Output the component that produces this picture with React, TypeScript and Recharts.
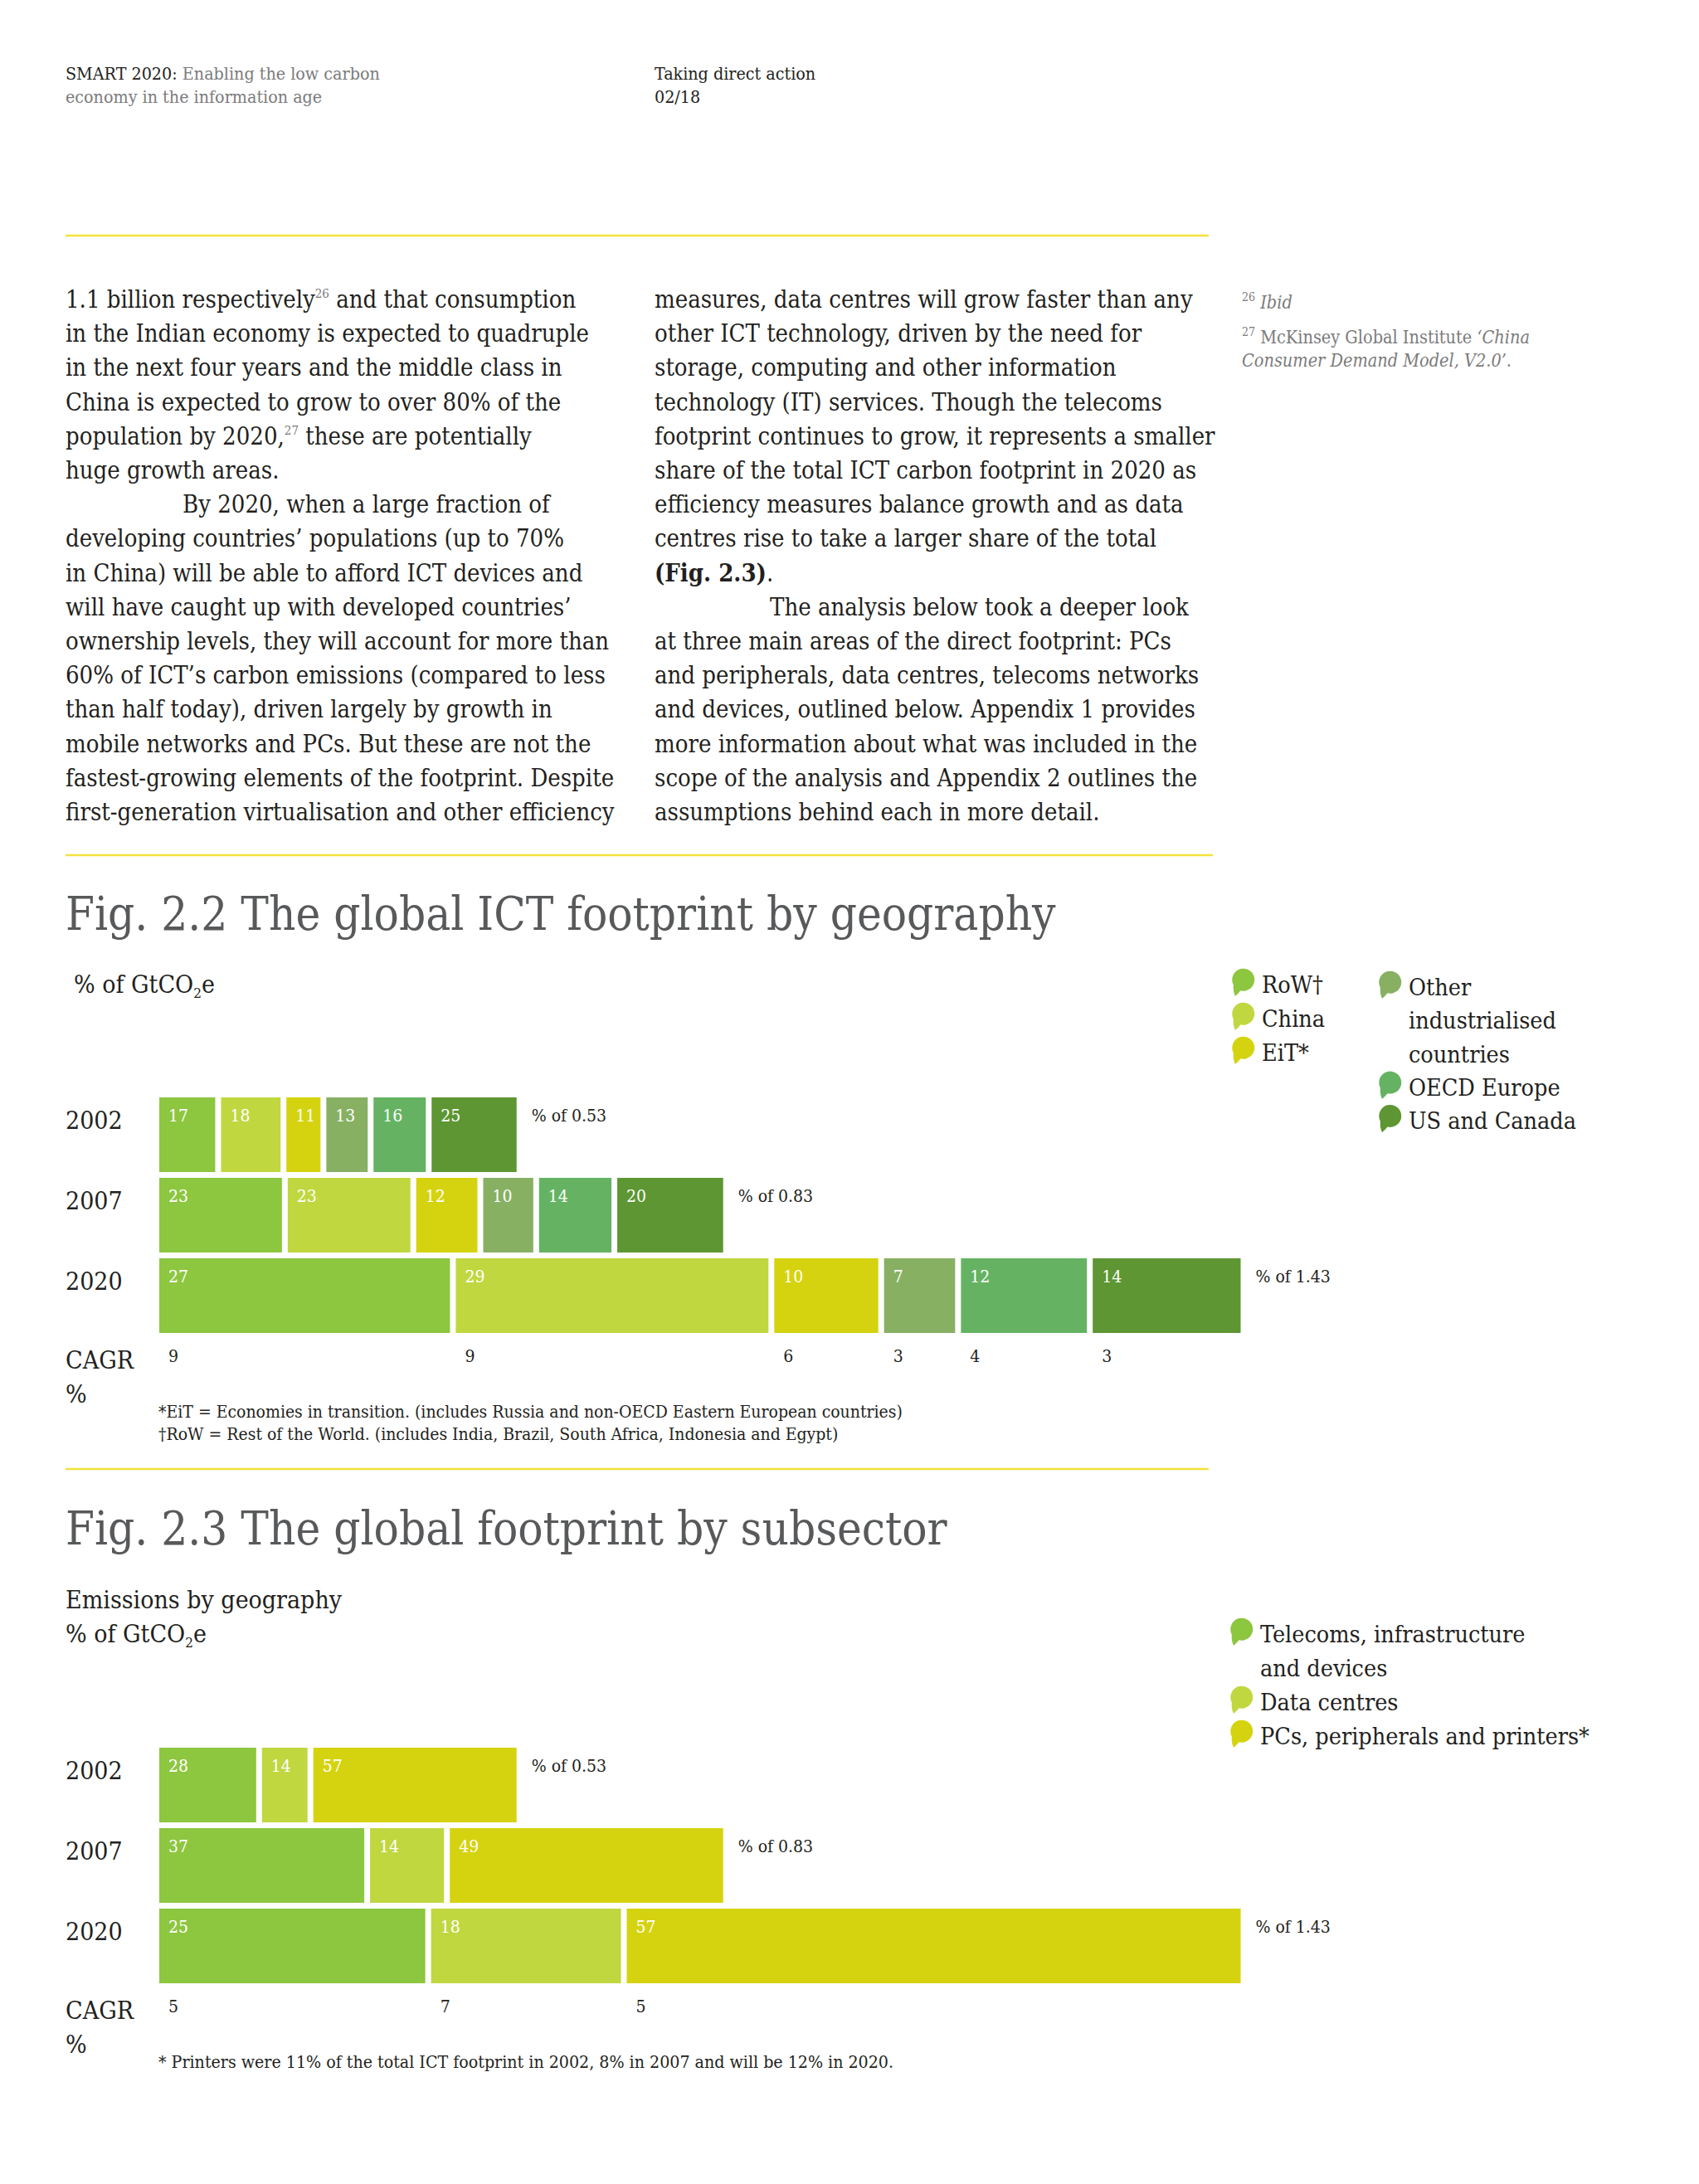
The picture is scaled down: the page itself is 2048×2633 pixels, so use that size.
import React from 'react';
import { BarChart, Bar, XAxis, YAxis, LabelList } from 'recharts';

const FONT = '"DejaVu Serif", "Liberation Serif", serif';
const INK = '#231f20';
const GREY = '#7b7b7b';
const TITLE_GREY = '#58595b';
const RULE = '#f3e23b';

// rows shared by both figures
const YEARS = ['2002', '2007', '2020'];
// drawn length of each row, as % of the 2020 row (as laid out on the page)
const ROW_LENGTH = [33.4, 52.4, 100];

// Fig 2.2 - by geography
const GEO_SERIES = ['RoW†', 'China', 'EiT*', 'Other\nindustrialised\ncountries', 'OECD Europe', 'US and Canada'];
const GEO_COLORS = ['#8dc63f', '#c0d73f', '#d5d30f', '#87b063', '#65b362', '#5d9632'];
const GEO_2002 = [17, 18, 11, 13, 16, 25];
const GEO_2007 = [23, 23, 12, 10, 14, 20];
const GEO_2020 = [27, 29, 10, 7, 12, 14];
const GEO_TOTALS = ['0.53', '0.83', '1.43'];
const GEO_CAGR = [9, 9, 6, 3, 4, 3];

// Fig 2.3 - by subsector
const SUB_SERIES = ['Telecoms, infrastructure\nand devices', 'Data centres', 'PCs, peripherals and printers*'];
const SUB_COLORS = ['#8dc63f', '#c0d73f', '#d5d30f'];
const SUB_2002 = [28, 14, 57];
const SUB_2007 = [37, 14, 49];
const SUB_2020 = [25, 18, 57];
const SUB_TOTALS = ['0.53', '0.83', '1.43'];
const SUB_CAGR = [5, 7, 5];

const GAP = 7;

function buildRows(rows: number[][], totals: string[], cagr: number[]) {
  return YEARS.map((year, i) => {
    const vals = rows[i];
    const sum = vals.reduce((a, b) => a + b, 0);
    const row: any = { year, total: `% of ${totals[i]}` };
    vals.forEach((v, j) => {
      row[`s${j}`] = (v * ROW_LENGTH[i]) / sum;
      row[`v${j}`] = v;
      row[`c${j}`] = i === YEARS.length - 1 ? cagr[j] : null;
    });
    return row;
  });
}

const geoData = buildRows([GEO_2002, GEO_2007, GEO_2020], GEO_TOTALS, GEO_CAGR);
const subData = buildRows([SUB_2002, SUB_2007, SUB_2020], SUB_TOTALS, SUB_CAGR);

const SegmentRect = (props: any) => {
  const { x, y, width, height, fill } = props;
  return <rect x={x} y={y} width={Math.max(width - GAP, 0)} height={height} fill={fill} />;
};

const box = (p: any) => (p.viewBox && p.viewBox.width != null ? p.viewBox : p);

const InnerLabel = (p: any) => {
  if (p.value == null) return null;
  const b = box(p);
  return (
    <text x={b.x + 11} y={b.y + 29} fill="#fff" fontSize={21}>
      {p.value}
    </text>
  );
};

const CagrLabel = (p: any) => {
  if (p.value == null) return null;
  const b = box(p);
  return (
    <text x={b.x + 11} y={b.y + b.height + 35} fill={INK} fontSize={21}>
      {p.value}
    </text>
  );
};

const TotalLabel = (p: any) => {
  if (p.value == null) return null;
  const b = box(p);
  return (
    <text x={b.x + b.width + 11} y={b.y + 29} fill={INK} fontSize={21}>
      {p.value}
    </text>
  );
};

const YearTick = (p: any) => (
  <text x={79} y={p.y - 7} fontSize={30} fill={INK}>
    {p.payload.value}
  </text>
);

function StackChart({ data, series, colors, top }: any) {
  return (
    <div style={{ position: 'absolute', left: 0, top }}>
      <BarChart
        width={2048}
        height={370}
        data={data}
        layout="vertical"
        margin={{ top: 19, right: 545.5, bottom: 60, left: 79 }}
        barSize={90}
        barCategoryGap={7}
      >
        <XAxis type="number" domain={[0, 100]} allowDataOverflow hide />
        <YAxis type="category" dataKey="year" width={113} axisLine={false} tickLine={false} tick={<YearTick />} />
        {series.map((name: string, j: number) => (
          <Bar
            key={name}
            dataKey={`s${j}`}
            name={name}
            stackId="row"
            fill={colors[j]}
            shape={<SegmentRect />}
            isAnimationActive={false}
          >
            <LabelList dataKey={`v${j}`} content={InnerLabel} />
            <LabelList dataKey={`c${j}`} content={CagrLabel} />
            {j === series.length - 1 && <LabelList dataKey="total" content={TotalLabel} />}
          </Bar>
        ))}
      </BarChart>
    </div>
  );
}

// speech-bubble legend marker, 28 x 33
const Bubble = ({ x, y, color }: any) => (
  <path
    transform={`translate(${x},${y})`}
    d="M4 33 C2 29 1.4 24 1.8 19.5 A13.5 13.5 0 1 1 10.5 26.3 C8.5 28.5 6.5 31 4 33 Z"
    fill={color}
  />
);

function Legend({ series, colors, cols }: any) {
  const out: any[] = [];
  cols.forEach((c: any) => {
    let line = 0;
    c.items.forEach((idx: number) => {
      const lines = series[idx].split('\n');
      const base = c.y + line * c.step;
      out.push(<Bubble key={`b${idx}`} x={c.x} y={base - 29} color={colors[idx]} />);
      lines.forEach((t: string, k: number) => {
        out.push(
          <text key={`t${idx}-${k}`} x={c.x + 36} y={base + k * c.step} fontSize={28.5} fill={INK}>
            {t}
          </text>
        );
      });
      line += lines.length;
    });
  });
  return <g>{out}</g>;
}

const COL1: any[] = [
  ['1.1 billion respectively', { sup: '26' }, ' and that consumption'],
  ['in the Indian economy is expected to quadruple'],
  ['in the next four years and the middle class in'],
  ['China is expected to grow to over 80% of the'],
  ['population by 2020,', { sup: '27' }, ' these are potentially'],
  ['huge growth areas.'],
  [{ indent: 141 }, 'By 2020, when a large fraction of'],
  ['developing countries\u2019 populations (up to 70%'],
  ['in China) will be able to afford ICT devices and'],
  ['will have caught up with developed countries\u2019'],
  ['ownership levels, they will account for more than'],
  ['60% of ICT\u2019s carbon emissions (compared to less'],
  ['than half today), driven largely by growth in'],
  ['mobile networks and PCs. But these are not the'],
  ['fastest-growing elements of the footprint. Despite'],
  ['first-generation virtualisation and other efficiency'],
];

const COL2: any[] = [
  ['measures, data centres will grow faster than any'],
  ['other ICT technology, driven by the need for'],
  ['storage, computing and other information'],
  ['technology (IT) services. Though the telecoms'],
  ['footprint continues to grow, it represents a smaller'],
  ['share of the total ICT carbon footprint in 2020 as'],
  ['efficiency measures balance growth and as data'],
  ['centres rise to take a larger share of the total'],
  [{ bold: '(Fig. 2.3)' }, '.'],
  [{ indent: 139 }, 'The analysis below took a deeper look'],
  ['at three main areas of the direct footprint: PCs'],
  ['and peripherals, data centres, telecoms networks'],
  ['and devices, outlined below. Appendix 1 provides'],
  ['more information about what was included in the'],
  ['scope of the analysis and Appendix 2 outlines the'],
  ['assumptions behind each in more detail.'],
];

const BODY_SIZE = 29;

function BodyColumn({ lines, x }: any) {
  return (
    <g fontSize={BODY_SIZE} fill={INK}>
      {lines.map((parts: any[], i: number) => {
        const ind = parts[0] && parts[0].indent ? parts[0].indent : 0;
        let back = 0;
        return (
          <text key={i} x={x + ind} y={371 + i * 41.2}>
            {parts.map((p: any, k: number) => {
              if (typeof p === 'string') {
                const dy = back;
                back = 0;
                return (
                  <tspan key={k} dy={dy || undefined}>
                    {p}
                  </tspan>
                );
              }
              if (p.sup) {
                back = 12;
                return (
                  <tspan key={k} fontSize={15} dy={-12} fill={GREY}>
                    {p.sup}
                  </tspan>
                );
              }
              if (p.bold)
                return (
                  <tspan key={k} fontWeight="bold">
                    {p.bold}
                  </tspan>
                );
              return null;
            })}
          </text>
        );
      })}
    </g>
  );
}

function Page() {
  return (
    <svg width={2048} height={2633} style={{ position: 'absolute', left: 0, top: 0 }}>
      {/* running header */}
      <text x={79} y={96} fontSize={21.3}>
        <tspan fill={INK}>SMART 2020:</tspan>
        <tspan fill={GREY}> Enabling the low carbon</tspan>
      </text>
      <text x={79} y={124} fontSize={21.3} fill={GREY}>
        economy in the information age
      </text>
      <text x={789} y={96} fontSize={21.3} fill={INK}>
        Taking direct action
      </text>
      <text x={789} y={124} fontSize={21.3} fill={INK}>
        02/18
      </text>

      <line x1={79} x2={1457} y1={284} y2={284} stroke={RULE} strokeWidth={2.5} />

      <BodyColumn lines={COL1} x={79} />
      <BodyColumn lines={COL2} x={789} />

      {/* side notes */}
      <text x={1497} y={372} fontSize={21.5} fill={GREY}>
        <tspan fontSize={14} dy={-9}>26</tspan>
        <tspan dy={9} fontStyle="italic"> Ibid</tspan>
      </text>
      <text x={1497} y={414} fontSize={21.5} fill={GREY}>
        <tspan fontSize={14} dy={-9}>27</tspan>
        <tspan dy={9}> McKinsey Global Institute </tspan>
        <tspan fontStyle="italic">{'\u2018China'}</tspan>
      </text>
      <text x={1497} y={442} fontSize={21.5} fill={GREY}>
        <tspan fontStyle="italic">{'Consumer Demand Model, V2.0\u2019'}</tspan>
        <tspan>.</tspan>
      </text>

      <line x1={79} x2={1462} y1={1031} y2={1031} stroke={RULE} strokeWidth={2.5} />

      {/* Fig 2.2 */}
      <text x={79} y={1121} fontSize={56} fill={TITLE_GREY}>
        Fig. 2.2 The global ICT footprint by geography
      </text>
      <text x={89} y={1197} fontSize={30} fill={INK}>
        % of GtCO<tspan fontSize={17} dy={6}>2</tspan>
        <tspan dy={-6}>e</tspan>
      </text>
      <Legend
        series={GEO_SERIES}
        colors={GEO_COLORS}
        cols={[
          { x: 1485, y: 1197, step: 41, items: [0, 1, 2] },
          { x: 1662, y: 1200, step: 40.3, items: [3, 4, 5] },
        ]}
      />
      <text x={79} y={1650} fontSize={30} fill={INK}>CAGR</text>
      <text x={79} y={1691} fontSize={30} fill={INK}>%</text>
      <text x={191} y={1709} fontSize={21} fill={INK}>
        *EiT = Economies in transition. (includes Russia and non-OECD Eastern European countries)
      </text>
      <text x={191} y={1736} fontSize={21} fill={INK}>
        †RoW = Rest of the World. (includes India, Brazil, South Africa, Indonesia and Egypt)
      </text>

      <line x1={79} x2={1457} y1={1771} y2={1771} stroke={RULE} strokeWidth={2.5} />

      {/* Fig 2.3 */}
      <text x={79} y={1862} fontSize={56} fill={TITLE_GREY}>
        Fig. 2.3 The global footprint by subsector
      </text>
      <text x={79} y={1939} fontSize={30} fill={INK}>
        Emissions by geography
      </text>
      <text x={79} y={1980} fontSize={30} fill={INK}>
        % of GtCO<tspan fontSize={17} dy={6}>2</tspan>
        <tspan dy={-6}>e</tspan>
      </text>
      <Legend
        series={SUB_SERIES}
        colors={SUB_COLORS}
        cols={[{ x: 1483, y: 1980, step: 41, items: [0, 1, 2] }]}
      />
      <text x={79} y={2434} fontSize={30} fill={INK}>CAGR</text>
      <text x={79} y={2475} fontSize={30} fill={INK}>%</text>
      <text x={191} y={2493} fontSize={21.2} fill={INK}>
        * Printers were 11% of the total ICT footprint in 2002, 8% in 2007 and will be 12% in 2020.
      </text>
    </svg>
  );
}

export default function App() {
  return (
    <div
      style={{
        position: 'absolute',
        left: 0,
        top: 0,
        width: 2048,
        height: 2633,
        background: '#fff',
        overflow: 'hidden',
        fontFamily: FONT,
        fontStretch: 'condensed',
      }}
    >
      <Page />
      <StackChart data={geoData} series={GEO_SERIES} colors={GEO_COLORS} top={1300} />
      <StackChart data={subData} series={SUB_SERIES} colors={SUB_COLORS} top={2084} />
    </div>
  );
}
